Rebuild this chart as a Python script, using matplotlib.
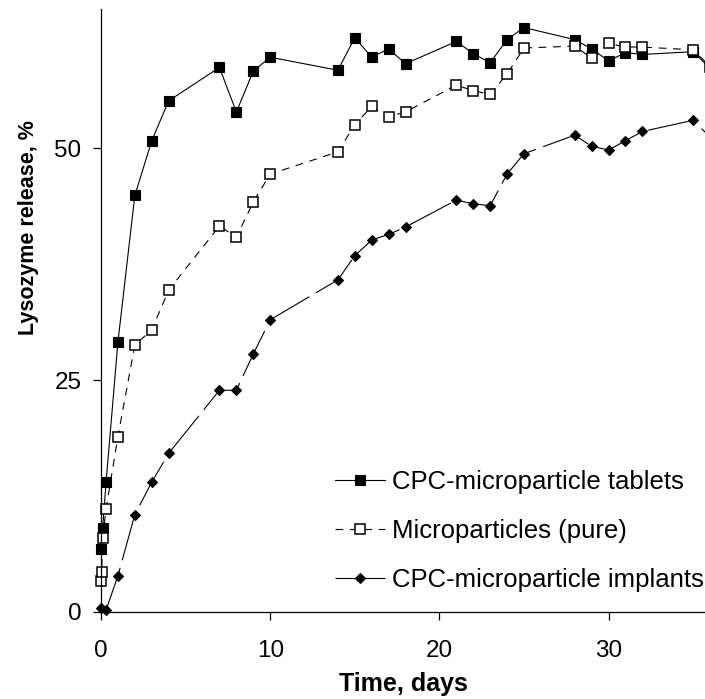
import matplotlib
matplotlib.use("Agg")
import matplotlib.pyplot as plt

plt.rcParams['font.family'] = ['Liberation Sans', 'DejaVu Sans']

# release data (days, % released)
tablet_days = [0, 0.1, 0.3, 1, 2, 3, 4, 7, 8, 9, 10, 14, 15, 16, 17, 18,
               21, 22, 23, 24, 25, 28, 29, 30, 31, 32, 35, 36]
tablet_release = [6.8, 9.1, 14.0, 29.1, 44.9, 50.8, 55.1, 58.7, 53.9, 58.3,
                  59.8, 58.4, 61.9, 59.8, 60.7, 59.1, 61.5, 60.2, 59.2, 61.7,
                  63.0, 61.7, 60.7, 59.4, 60.3, 60.1, 60.4, 58.6]

micro_days = [0, 0.04, 0.1, 0.3, 1, 2, 3, 4, 7, 8, 9, 10, 14, 15, 16, 17, 18,
              21, 22, 23, 24, 25, 28, 29, 30, 31, 32, 35, 36]
micro_release = [3.3, 4.3, 8.0, 11.1, 18.9, 28.8, 30.4, 34.7, 41.6, 40.4,
                 44.2, 47.2, 49.6, 52.5, 54.5, 53.4, 53.9, 56.8, 56.2, 55.8,
                 58.0, 60.8, 61.0, 59.7, 61.3, 60.9, 60.9, 60.6, 58.8]

implant_days = [0, 0.3, 1, 2, 3, 4, 7, 8, 9, 10, 14, 15, 16, 17, 18,
                21, 22, 23, 24, 25, 28, 29, 30, 31, 32, 35, 36]
implant_release = [0.4, 0.2, 3.9, 10.5, 14.0, 17.1, 23.9, 23.9, 27.8, 31.5,
                   35.8, 38.4, 40.1, 40.7, 41.5, 44.4, 44.0, 43.8, 47.2, 49.4,
                   51.4, 50.2, 49.8, 50.8, 51.8, 53.0, 51.2]

labels = ["CPC-microparticle tablets", "Microparticles (pure)",
          "CPC-microparticle implants"]

W, H = 705, 699
fig = plt.figure(figsize=(W / 100, H / 100), dpi=100)
ax = fig.add_axes([101 / W, (H - 612) / H, 604 / W, 603 / H])

ax.plot(tablet_days, tablet_release, color='k', lw=0.8, marker='s',
        ms=7.2, mfc='k', mec='k', mew=0.8, clip_on=False, label=labels[0])
ax.plot(micro_days, micro_release, color='k', lw=0.8, ls=(0, (7, 6)),
        marker='s', ms=6.6, mfc='white', mec='k', mew=1.1, clip_on=False,
        label=labels[1])
ax.plot(implant_days, implant_release, color='k', lw=0.8, ls=(0, (45, 7)),
        marker='D', ms=5.6, mfc='k', mec='k', mew=0.8, clip_on=False,
        label=labels[2])

ax.set_xlim(0, 35.7)
ax.set_ylim(0, 65)
ax.set_xticks([0, 10, 20, 30])
ax.set_yticks([0, 25, 50])

for side in ['top', 'right']:
    ax.spines[side].set_visible(False)
for side in ['left', 'bottom']:
    ax.spines[side].set_linewidth(0.9)

ax.tick_params(axis='both', direction='out', length=6, width=0.9,
               labelsize=17.5)
ax.tick_params(axis='x', pad=14)
ax.tick_params(axis='y', pad=8)

ax.set_xlabel("Time, days", fontsize=18, fontweight='bold', labelpad=7)
ax.set_ylabel("Lysozyme release, %", fontsize=15.5, fontweight='bold')
ax.yaxis.set_label_coords(-0.102, 0.638)

ax.legend(loc='upper left', bbox_to_anchor=(335 / W, (H - 470) / H),
          bbox_transform=fig.transFigure, frameon=False, fontsize=18.5,
          handlelength=1.95, handletextpad=0.27, labelspacing=0.97,
          borderpad=0, borderaxespad=0)

fig.savefig("out.png", dpi=100)
